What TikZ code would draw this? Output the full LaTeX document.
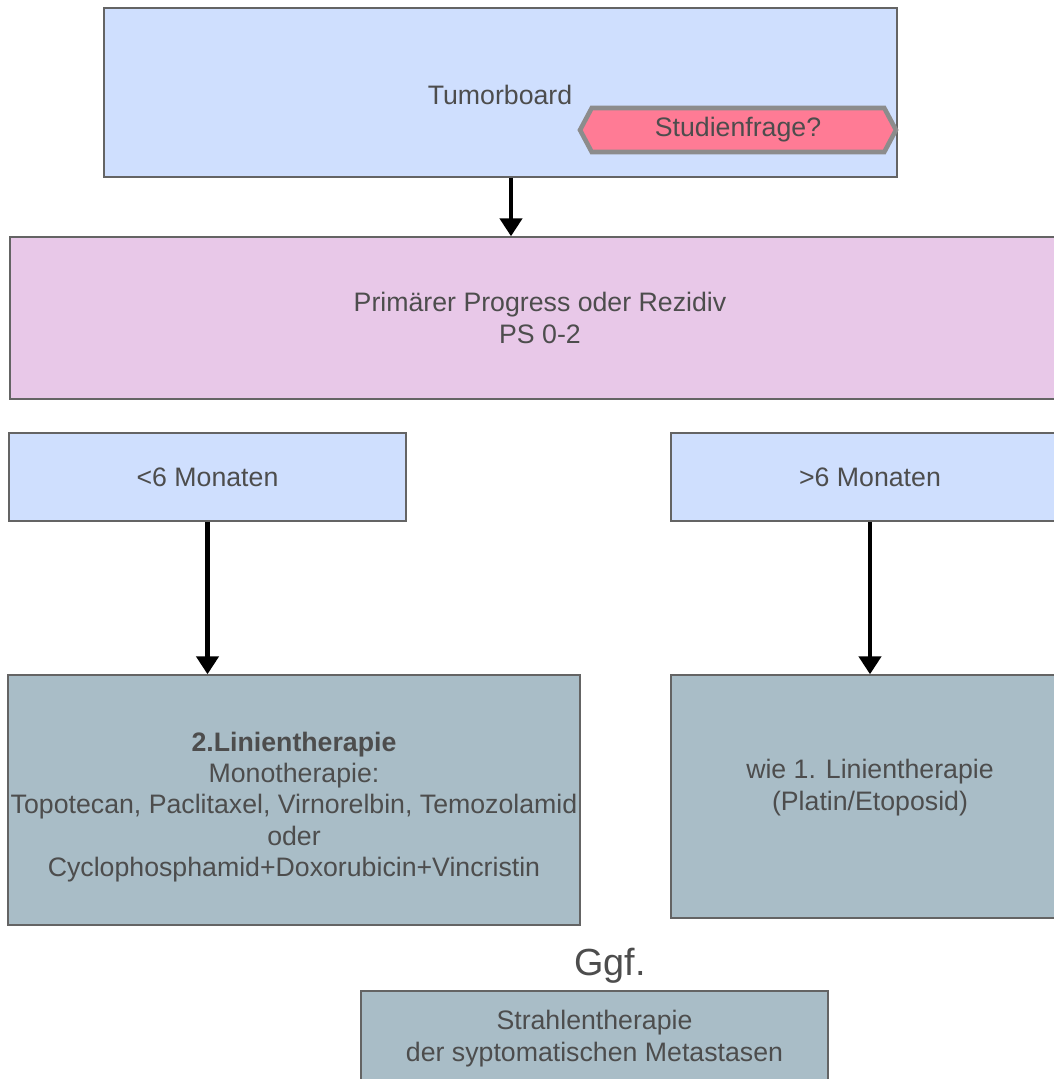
\documentclass[tikz,border=0pt]{standalone}
\usepackage{fontspec}
\setmainfont{Liberation Sans}
\usetikzlibrary{arrows.meta, positioning, shapes.symbols, calc}
\definecolor{LB}{RGB}{207,223,254}
\definecolor{LV}{RGB}{232,200,232}
\definecolor{GB}{RGB}{169,189,199}
\definecolor{PK}{RGB}{255,123,149}
\definecolor{DG}{RGB}{77,77,77}
\definecolor{BG}{RGB}{100,100,100}
\definecolor{MG}{RGB}{140,140,140}

\begin{document}
\begin{tikzpicture}[
  x=0.02cm, y=-0.02cm,
  txt/.style={align=center, text=DG, font=\fontsize{15.2}{17.9}\selectfont, inner sep=0pt},
  box/.style={txt, draw=BG, line width=0.85pt},
  bluebox/.style={box, fill=LB},
  violetbox/.style={box, fill=LV},
  greybox/.style={box, fill=GB},
  flag/.style={signal, signal to=east and west, signal pointer angle=124,
               draw=MG, line width=2.6pt, fill=PK, text=DG,
               font=\fontsize{15.2}{17.9}\selectfont,
               minimum width=6.32cm, minimum height=0.88cm, inner sep=0pt},
  flow/.style={line width=2.8pt, -{Triangle[length=0.36cm, width=0.44cm]}}
]
\clip (0,0) rectangle (1054,1079);
\fill[white] (0,0) rectangle (1054,1079);

% Tumorboard
\node[bluebox, minimum width=15.86cm, minimum height=3.38cm] (tb) at (500.5,92.5) {};
\node[txt] (tbl) at (500,95) {Tumorboard};
\node[flag] (sf) at (738,130) {Studienfrage?};

% Progress / Rezidiv
\node[violetbox, minimum width=21.2cm, minimum height=3.24cm] (pp) at (540,318)
  {Primärer Progress oder Rezidiv\\PS 0-2};

% time since first line
\node[bluebox, minimum width=7.94cm, minimum height=1.76cm] (lt) at (207.5,477) {<6 Monaten};
\node[bluebox, minimum width=7.96cm, minimum height=1.76cm] (gt) at (870,477) {>6 Monaten};

% therapies
\node[greybox, minimum width=11.44cm, minimum height=5.0cm] (zl) at (294,800) {};
\node[txt] (zlt) at (294,807)
  {\textbf{2.Linientherapie}\\Monotherapie:\\Topotecan, Paclitaxel, Virnorelbin, Temozolamid\\oder\\Cyclophosphamid+Doxorubicin+Vincristin};
\node[greybox, minimum width=7.96cm, minimum height=4.86cm] (wie) at (870,796.5)
  {wie 1. Linientherapie\\(Platin/Etoposid)\\[-0.17cm]\mbox{}};

% optional radiotherapy
\node[txt, font=\fontsize{21.5}{25}\selectfont] (ggf) at (610,966) {Ggf.};
\node[greybox, minimum width=9.34cm, minimum height=1.9cm] (rt) at (594.5,1038.5)
  {Strahlentherapie\\der syptomatischen Metastasen};

% connectors
\coordinate (tbo) at ($(tb.south)+(10.5,0)$);
\draw[flow] (tbo) -- (tbo |- pp.north);
\draw[flow] (lt.south) -- (lt.south |- zl.north);
\draw[flow] (gt.south) -- (wie.north);
\end{tikzpicture}
\end{document}
